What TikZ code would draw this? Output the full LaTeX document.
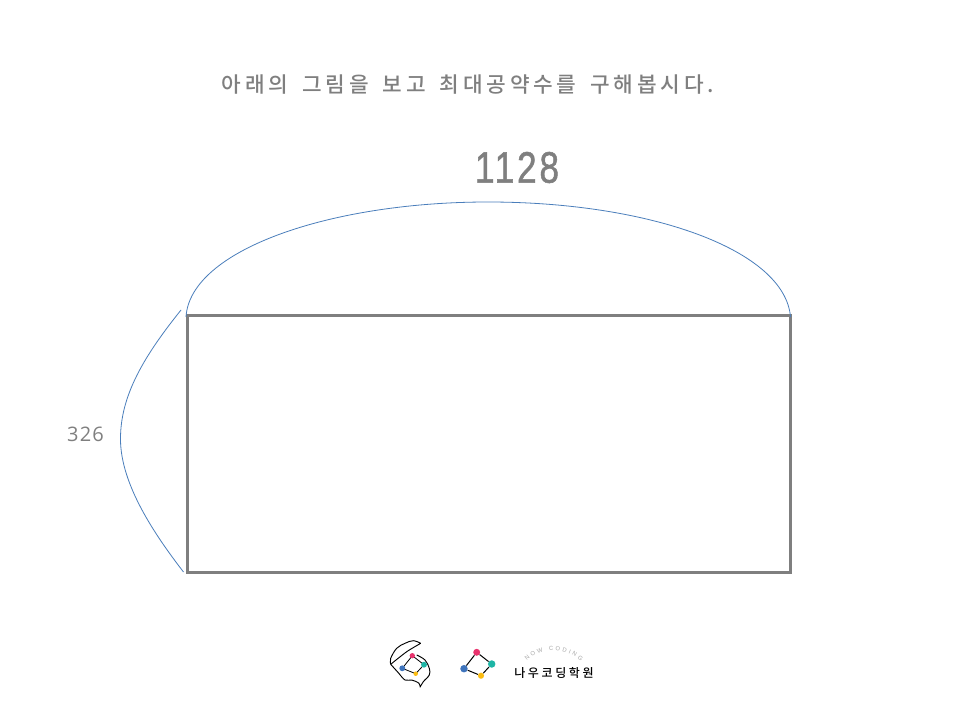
\documentclass[tikz,border=0pt]{standalone}
\usepackage{fontspec}
\usetikzlibrary{decorations.text}
\newfontfamily\krfont[LetterSpace=18,WordSpace=1.6]{Noto Sans CJK KR Medium}
\newfontfamily\krlogo[LetterSpace=22]{Noto Sans CJK KR Medium}
\newfontfamily\numfont[LetterSpace=6]{Open Sans}
\newfontfamily\bignum[LetterSpace=8,FakeBold=1.3]{Liberation Sans}
\newfontfamily\tinyfont{Liberation Sans}
\definecolor{txtgray}{HTML}{7F7F7F}
\definecolor{arcblue}{HTML}{4A7EBB}
\definecolor{lpink}{HTML}{E8336D}
\definecolor{lteal}{HTML}{1DB5A5}
\definecolor{lyellow}{HTML}{FBBC11}
\definecolor{lblue}{HTML}{3F74BC}
\tikzset{
  x=0.75pt,y=-0.75pt,
  arc/.style={draw=arcblue,line width=0.6pt},
  lbl/.style={text=txtgray,inner sep=0pt},
  dot/.style={circle,inner sep=0pt,minimum size=#1},
  logoline/.style={draw=black,line width=0.75pt},
}
\begin{document}
\begin{tikzpicture}
\useasboundingbox (0,0) rectangle (960,720);
\fill[white] (0,0) rectangle (960,720);
% title
\node[lbl,font=\krfont\fontsize{16pt}{18pt}\selectfont] (title) at (468,85) {아래의 그림을 보고 최대공약수를 구해봅시다.};
\node[lbl,font=\bignum\fontsize{33pt}{35pt}\selectfont,xscale=0.8] (top) at (517,167.5) {1128};
\node[lbl,font=\numfont\fontsize{15pt}{17pt}\selectfont] (left) at (85.5,434) {326};
% rectangle
\node[draw=txtgray,line width=2.4pt,minimum width=452pt,minimum height=192.5pt,inner sep=0pt,outer sep=0pt] (box) at (488.8,444) {};
% arcs
\coordinate (ta) at (186,317);
\coordinate (tb) at (790.5,317);
\draw[arc] (ta) .. controls (190,250) and (330,202) .. (488,202) .. controls (650,202) and (785,250) .. (tb);
\coordinate (la) at (181,310);
\coordinate (lb) at (183.5,572);
\draw[arc] (la) .. controls (145,355) and (120,395) .. (120.5,440) .. controls (121,485) and (155,535) .. (lb);
% logo 1
\draw[black,line width=0.7pt,line join=round]
 plot[smooth,tension=0.6] coordinates {(390.7,664.3) (390.7,658.3) (396.7,648.3) (405,643.3) (413.3,640.7) (420.7,643.3)}
 plot[smooth,tension=0.4] coordinates {(420.7,643.3) (406.7,651.7) (390.7,664.3)};
\draw[black,line width=0.7pt,line join=round]
 plot[smooth,tension=0.6] coordinates {(390.7,664.3) (398.3,672.7) (405,680) (411.7,680) (419,683.3) (420,687.3)}
 plot[smooth,tension=0.6] coordinates {(420,687.3) (423.3,681.7) (429.3,675) (429.3,668.3) (425,660) (416.7,655)};
\coordinate (a1) at (412.3,655.7); \coordinate (a2) at (424,664.7);
\coordinate (a3) at (415.7,673.7); \coordinate (a4) at (402.3,668.3);
\draw[black,line width=0.6pt] (a1)--(a2)--(a3)--(a4)--cycle;
\node[dot=4pt,fill=lpink] at (a1) {};
\node[dot=4.4pt,fill=lteal] at (a2) {};
\node[dot=3.4pt,fill=lyellow] at (a3) {};
\node[dot=4.4pt,fill=lblue] at (a4) {};
% logo 2
\node[dot=5.2pt,fill=lpink] (b1) at (476.7,652.3) {};
\node[dot=5.6pt,fill=lteal] (b2) at (491.7,664) {};
\node[dot=4.6pt,fill=lyellow] (b3) at (481,675.7) {};
\node[dot=5.6pt,fill=lblue] (b4) at (464,668.7) {};
\draw[logoline] (b1)--(b2)--(b3)--(b4)--(b1);
% wordmark
\node[inner sep=0pt,font=\krlogo\fontsize{9pt}{10pt}\selectfont] (word) at (554,673) {나우코딩학원};
\path[decorate,decoration={text along path,text align={fit to path},
  text={|\tinyfont\fontsize{4.4pt}{5pt}\selectfont\color{gray!70}|NOW CODING}}]
  (527,661) .. controls (541,647) and (565,647) .. (581,661);
\end{tikzpicture}
\end{document}
